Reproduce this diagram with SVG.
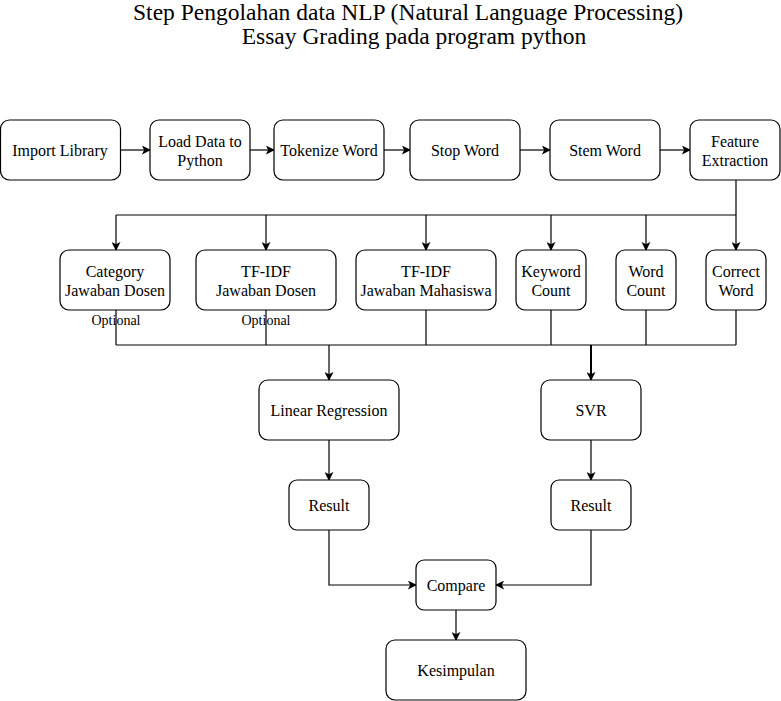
<svg xmlns="http://www.w3.org/2000/svg" width="781" height="701" viewBox="0 0 781 701">
<defs>
<marker id="arr" viewBox="0 0 10 10" refX="9" refY="5" markerWidth="9" markerHeight="9" markerUnits="userSpaceOnUse" orient="auto">
<path d="M0,0 L10,5 L0,10 L2.5,5 Z" fill="#000"/>
</marker>
<style>
.box{fill:#fff;stroke:#000;stroke-width:1.2}
.t{font-family:"Liberation Serif","Times New Roman",serif;font-size:16px;fill:#000;text-anchor:middle}
.s{font-family:"Liberation Serif","Times New Roman",serif;font-size:14px;fill:#000;text-anchor:middle}
.title{font-family:"Liberation Serif","Times New Roman",serif;font-size:23.5px;fill:#000;text-anchor:middle}
.c{fill:none;stroke:#000;stroke-width:1.2}
.a{fill:none;stroke:#000;stroke-width:1.2;marker-end:url(#arr)}
</style>
</defs>
<rect width="781" height="701" fill="#fff"/>
<g id="title">
<text class="title" x="408" y="20">Step Pengolahan data NLP (Natural Language Processing)</text>
<text class="title" x="414" y="44">Essay Grading pada program python</text>
</g>
<g id="connectors">
<path class="a" d="M120,150 H150"/>
<path class="a" d="M250,150 H274"/>
<path class="a" d="M384,150 H410"/>
<path class="a" d="M520,150 H550"/>
<path class="a" d="M660,150 H690"/>
<path class="c" d="M736,180 V215 M116,215 H736"/>
<path class="a" d="M116,215 V250"/>
<path class="a" d="M266,215 V250"/>
<path class="a" d="M426,215 V250"/>
<path class="a" d="M551,215 V250"/>
<path class="a" d="M646,215 V250"/>
<path class="a" d="M736,215 V250"/>
<path class="c" d="M116,310 V345 M266,310 V345 M426,310 V345 M551,310 V345 M646,310 V345 M736,310 V345 M116,345 H736"/>
<path class="a" d="M329,345 V380"/>
<path class="a" d="M591,345 V380" style="stroke-width:2"/>
<path class="a" d="M329,440 V480"/>
<path class="a" d="M591,440 V480"/>
<path class="a" d="M329,530 V585 H416"/>
<path class="a" d="M591,530 V585 H496"/>
<path class="a" d="M456,610 V640"/>
</g>
<g id="import-library"><rect class="box" x="0.5" y="120" width="120" height="60" rx="9"/><text class="t" x="60" y="156">Import Library</text></g>
<g id="load-data"><rect class="box" x="150" y="120" width="100" height="60" rx="9"/><text class="t" x="200" y="147">Load Data to</text><text class="t" x="200" y="166">Python</text></g>
<g id="tokenize"><rect class="box" x="274" y="120" width="110" height="60" rx="9"/><text class="t" x="329" y="156">Tokenize Word</text></g>
<g id="stop-word"><rect class="box" x="410" y="120" width="110" height="60" rx="9"/><text class="t" x="465" y="156">Stop Word</text></g>
<g id="stem-word"><rect class="box" x="550" y="120" width="110" height="60" rx="9"/><text class="t" x="605" y="156">Stem Word</text></g>
<g id="feature-extraction"><rect class="box" x="690" y="120" width="90" height="60" rx="9"/><text class="t" x="735" y="147">Feature</text><text class="t" x="735" y="166">Extraction</text></g>
<g id="category"><rect class="box" x="60" y="250" width="110" height="60" rx="9"/><text class="t" x="115" y="277">Category</text><text class="t" x="115" y="296">Jawaban Dosen</text><text class="s" x="116" y="325">Optional</text></g>
<g id="tfidf-dosen"><rect class="box" x="196" y="250" width="140" height="60" rx="9"/><text class="t" x="266" y="277">TF-IDF</text><text class="t" x="266" y="296">Jawaban Dosen</text><text class="s" x="266" y="325">Optional</text></g>
<g id="tfidf-mahasiswa"><rect class="box" x="356" y="250" width="140" height="60" rx="9"/><text class="t" x="426" y="277">TF-IDF</text><text class="t" x="426" y="296">Jawaban Mahasiswa</text></g>
<g id="keyword-count"><rect class="box" x="516" y="250" width="70" height="60" rx="9"/><text class="t" x="551" y="277">Keyword</text><text class="t" x="551" y="296">Count</text></g>
<g id="word-count"><rect class="box" x="616" y="250" width="60" height="60" rx="9"/><text class="t" x="646" y="277">Word</text><text class="t" x="646" y="296">Count</text></g>
<g id="correct-word"><rect class="box" x="706" y="250" width="60" height="60" rx="9"/><text class="t" x="736" y="277">Correct</text><text class="t" x="736" y="296">Word</text></g>
<g id="linear-regression"><rect class="box" x="259" y="380" width="140" height="60" rx="9"/><text class="t" x="329" y="416">Linear Regression</text></g>
<g id="svr"><rect class="box" x="541" y="380" width="100" height="60" rx="9"/><text class="t" x="591" y="416">SVR</text></g>
<g id="result-lr"><rect class="box" x="289" y="480" width="80" height="50" rx="8"/><text class="t" x="329" y="511">Result</text></g>
<g id="result-svr"><rect class="box" x="551" y="480" width="80" height="50" rx="8"/><text class="t" x="591" y="511">Result</text></g>
<g id="compare"><rect class="box" x="416" y="560" width="80" height="50" rx="8"/><text class="t" x="456" y="591">Compare</text></g>
<g id="kesimpulan"><rect class="box" x="386" y="640" width="140" height="60" rx="9"/><text class="t" x="456" y="676">Kesimpulan</text></g>
</svg>
